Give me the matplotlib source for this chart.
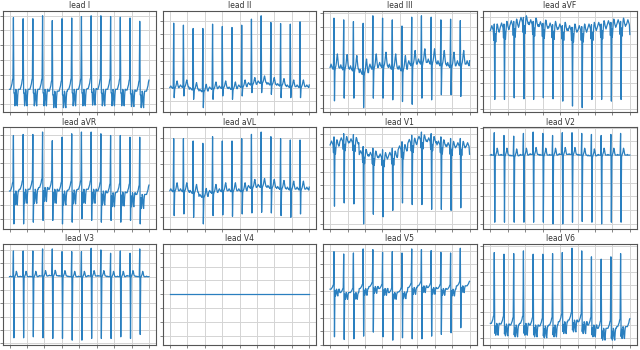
import numpy as np
import matplotlib
matplotlib.use("Agg")
import matplotlib.pyplot as plt
from matplotlib.ticker import MultipleLocator, MaxNLocator

# 12-lead layout, 14 beats per lead
lead_names = ["I", "II", "III", "aVF", "aVR", "aVL", "V1", "V2", "V3", "V4", "V5", "V6"]

# beat shapes between the spikes (R at index 8, S at index 9)
wave_a = [0, 0, 0, 0.05, 0.1, 0.15, 0.25, 0.3, 0, 0, -0.1, -0.45, -0.3, 0, -0.05, -0.4, -0.45, -0.15, 0, 0]
wave_b = [0, 0.05, 0.1, 0.05, 0, 0, -0.05, 0.1, 0, 0, -0.1, 0, 0.05, 0.15, 0.3, 0.4, 0.25, 0.1, 0, 0]
wave_c = [0, 0.05, 0.1, 0.15, 0.1, 0.05, 0, -0.3, 0, 0, -0.1, -0.35, -0.1, 0.1, 0.2, 0.15, 0.05, 0, -0.05, 0]
wave_d = [0, 0, 0.02, 0, 0, 0, 0, 0, 0, 0, -0.05, 0, 0.05, 0.1, 0.2, 0.15, 0.05, 0, 0, 0]

# lead I
base_I = [0, 0, 0, 0, -0.05, -0.05, 0, 0, 0.02, 0, 0, 0, -0.02, -0.05]
r_I = [1.95, 1.92, 1.92, 2.0, 1.87, 1.92, 1.94, 1.98, 2.0, 2.0, 1.98, 1.96, 1.94, 1.85]
s_I = [-0.1, -0.1, -0.1, -0.1, -0.15, -0.15, -0.1, -0.1, -0.08, -0.1, -0.1, -0.1, -0.12, -0.15]

# lead II
base_II = [0, 0.03, -0.05, -0.1, -0.03, 0, -0.03, 0.03, 0.1, 0.15, 0.1, 0.07, 0.03, 0.03]
r_II = [1.93, 1.87, 1.77, 1.77, 1.9, 1.83, 1.8, 1.87, 2.05, 2.15, 1.95, 1.92, 1.9, 1.97]
s_II = [-0.3, -0.25, -0.35, -0.6, -0.35, -0.25, -0.35, -0.25, -0.15, -0.15, -0.2, -0.3, -0.3, -0.3]

# lead III
base_III = [0, -0.02, -0.05, -0.15, 0, 0.05, 0, -0.05, 0.1, 0.15, 0.15, 0.1, 0.05, 0.1]
r_III = [1.45, 1.4, 1.35, 1.3, 1.52, 1.45, 1.4, 1.22, 1.48, 1.52, 1.48, 1.4, 1.42, 1.38]
s_III = [-0.98, -0.9, -0.9, -1.18, -0.9, -0.9, -0.95, -1.0, -1.08, -0.9, -0.95, -0.8, -0.8, -0.85]

# lead aVF
base_aVF = [0, 0.08, 0.15, 0.25, 0.18, 0.12, 0.08, 0.05, 0, 0, 0.05, 0.1, 0.15, 0.18]
r_aVF = [0.2, 0.2, 0.28, 0.4, 0.28, 0.22, 0.18, 0.15, 0.1, 0.12, 0.18, 0.2, 0.25, 0.28]
s_aVF = [-2.1, -2.1, -2.05, -2.08, -2.1, -2.05, -2.08, -2.15, -2.3, -2.35, -2.1, -2.1, -2.15, -2.1]

# lead aVR
base_aVR = [0, 0.05, 0.05, 0.1, 0.05, 0, 0.03, 0.05, 0.05, 0, -0.05, -0.03, -0.05, -0.1]
r_aVR = [1.6, 1.63, 1.63, 1.7, 1.45, 1.55, 1.65, 1.7, 1.7, 1.65, 1.6, 1.6, 1.55, 1.55]
s_aVR = [-0.95, -0.95, -0.9, -0.85, -0.85, -0.95, -0.9, -0.8, -0.85, -0.9, -0.85, -0.9, -0.85, -0.95]

# lead aVL
base_aVL = [0, 0, -0.05, -0.17, -0.05, 0, 0, 0, 0.1, 0.13, 0.1, 0.07, 0.05, 0.05]
r_aVL = [1.57, 1.57, 1.5, 1.43, 1.63, 1.5, 1.5, 1.57, 1.7, 1.77, 1.63, 1.57, 1.53, 1.53]
s_aVL = [-0.75, -0.7, -0.8, -1.0, -0.75, -0.73, -0.77, -0.7, -0.67, -0.65, -0.67, -0.75, -0.8, -0.7]

# lead V1
base_V1 = [0.05, 0.15, 0.12, -0.25, -0.3, -0.35, -0.3, -0.1, 0.1, 0.2, 0.15, 0.05, 0, 0]
r_V1 = [0.3, 0.4, 0.37, 0, -0.05, -0.1, -0.05, 0.15, 0.35, 0.45, 0.4, 0.3, 0.25, 0.25]
s_V1 = [-1.85, -1.75, -1.78, -2.4, -2.1, -2.18, -1.98, -1.75, -1.8, -1.8, -1.95, -1.95, -1.98, -1.9]

# lead V2
base_V2 = [0, 0, -0.02, 0, 0.02, 0, 0, 0.02, 0.02, 0, -0.02, 0, 0, 0]
r_V2 = [0.65, 0.57, 0.55, 0.63, 0.67, 0.63, 0.57, 0.65, 0.65, 0.63, 0.6, 0.57, 0.6, 0.63]
s_V2 = [-1.95, -1.95, -1.95, -1.95, -1.95, -1.95, -2.0, -2.0, -1.95, -1.93, -1.95, -2.0, -1.95, -1.95]

# lead V3
base_V3 = [0, 0, 0, 0.02, 0.03, 0.02, 0, 0, 0.02, 0.02, 0, 0, 0.02, 0]
r_V3 = [0.77, 0.77, 0.77, 0.83, 0.83, 0.75, 0.75, 0.75, 0.85, 0.8, 0.7, 0.77, 0.7, 0.83]
s_V3 = [-1.83, -1.83, -1.8, -1.83, -1.85, -1.85, -1.9, -1.9, -1.85, -1.85, -1.85, -1.8, -1.85, -1.73]

# lead V4 (flat, no signal)
base_V4 = [0] * 14
r_V4 = [0] * 14
s_V4 = [0] * 14

# lead V5
base_V5 = [0.05, -0.05, -0.05, 0.07, 0.13, 0.07, -0.05, -0.03, 0.1, 0.15, 0.1, 0.07, 0.05, 0.15]
r_V5 = [1.17, 1.1, 1.13, 1.25, 1.23, 1.15, 1.17, 1.13, 1.25, 1.23, 1.2, 1.15, 1.13, 1.27]
s_V5 = [-1.37, -1.45, -1.43, -1.35, -1.23, -1.37, -1.47, -1.4, -1.43, -1.43, -1.35, -1.3, -1.25, -1.1]

# lead V6
base_V6 = [0.05, 0.03, 0, 0.05, 0, -0.03, 0, 0.1, 0.15, 0.1, 0, -0.1, -0.1, -0.05]
r_V6 = [2.2, 2.15, 2.17, 2.25, 2.15, 2.15, 2.17, 2.2, 2.33, 2.25, 2.07, 2.0, 2.07, 2.17]
s_V6 = [-0.25, -0.27, -0.3, -0.25, -0.3, -0.33, -0.3, -0.2, -0.15, -0.2, -0.3, -0.4, -0.4, -0.35]

R_IDX, S_IDX, TAIL = 8, 9, 8


def build_trace(base, r, s, wave, scale):
    """Stitch one beat per (base, R, S) triple onto the lead's wave shape."""
    wave = np.asarray(wave, dtype=float) * scale
    beats = []
    for b, rv, sv in zip(base, r, s):
        seg = b + wave
        seg[R_IDX] = rv
        seg[S_IDX] = sv
        beats.append(seg)
    beats.append(base[-1] + wave[:TAIL])
    return np.concatenate(beats)


leads = {
    "I": build_trace(base_I, r_I, s_I, wave_a, 1.0),
    "II": build_trace(base_II, r_II, s_II, wave_b, 0.5),
    "III": build_trace(base_III, r_III, s_III, wave_b, 1.0),
    "aVF": build_trace(base_aVF, r_aVF, s_aVF, wave_c, 1.0),
    "aVR": build_trace(base_aVR, r_aVR, s_aVR, wave_a, 0.9),
    "aVL": build_trace(base_aVL, r_aVL, s_aVL, wave_b, 0.6),
    "V1": build_trace(base_V1, r_V1, s_V1, wave_c, 0.8),
    "V2": build_trace(base_V2, r_V2, s_V2, wave_d, 1.0),
    "V3": build_trace(base_V3, r_V3, s_V3, wave_d, 0.8),
    "V4": build_trace(base_V4, r_V4, s_V4, [0] * 20, 0.0),
    "V5": build_trace(base_V5, r_V5, s_V5, wave_a, 0.45),
    "V6": build_trace(base_V6, r_V6, s_V6, wave_a, 0.8),
}

fig, axes = plt.subplots(3, 4, figsize=(6.4, 3.5), dpi=100)
fig.subplots_adjust(left=0.004, right=0.995, top=0.968, bottom=0.015,
                    wspace=0.045, hspace=0.15)

for ax, name in zip(axes.flat, lead_names):
    y = leads[name]
    x = np.linspace(0, 4000, len(y))
    ax.plot(x, y, color="#2a7fbf", linewidth=0.9)
    ax.set_title(f"lead {name}", fontsize=5.5, pad=2, color="#333333")
    ax.xaxis.set_major_locator(MultipleLocator(500))
    ax.yaxis.set_major_locator(MaxNLocator(nbins=8))
    ax.grid(True, color="#d4d4d4", linewidth=0.7)
    ax.tick_params(length=2, width=0.5, colors="#555555",
                   labelbottom=False, labelleft=False)
    for sp in ax.spines.values():
        sp.set_color("#555555")
        sp.set_linewidth(0.8)

fig.savefig("out.png", dpi=100)
